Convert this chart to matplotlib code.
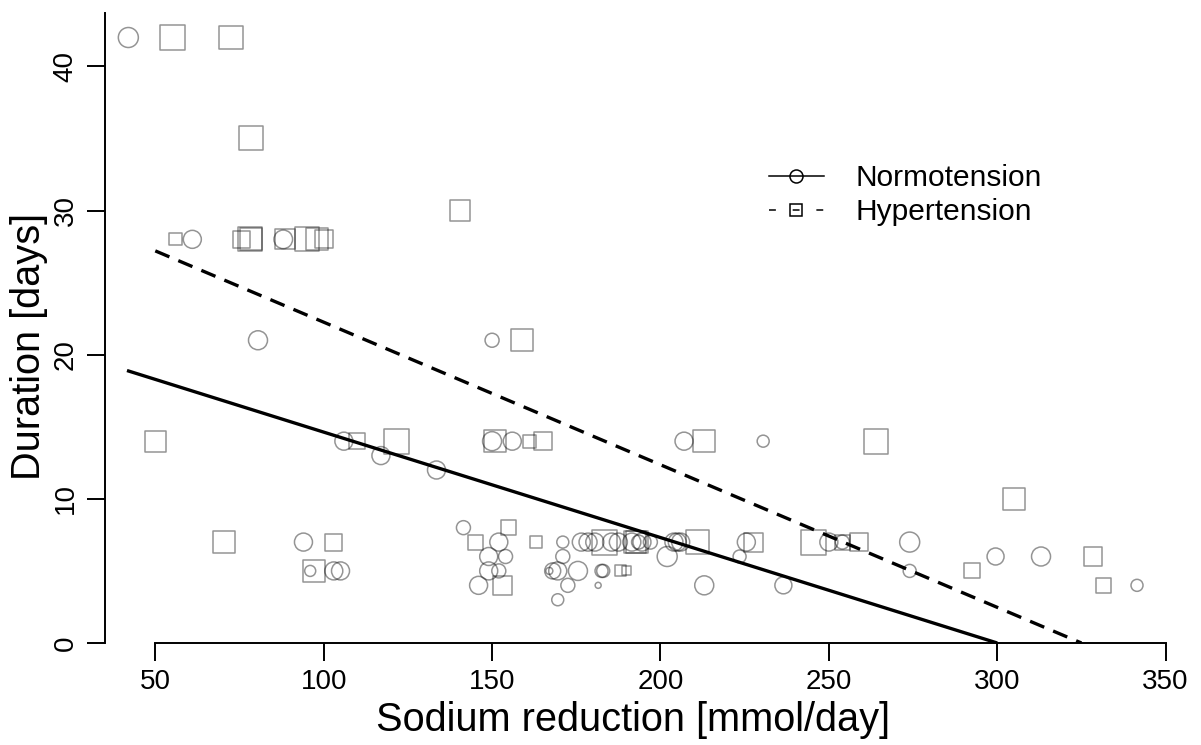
import numpy as np
import matplotlib.pyplot as plt
from matplotlib.lines import Line2D

plt.rcParams['font.family'] = ['Liberation Sans', 'DejaVu Sans']

# normotension trials: sodium reduction, duration, symbol weight (radius)
normo_x = [42, 61, 88, 80.5, 150, 106, 117, 133.5, 150, 156, 207, 230.5,
           94, 96, 103, 105, 141.5, 152, 149, 154, 149, 152, 146,
           171, 176.5, 178.5, 180.5, 185.5, 187.5, 191.5, 193.5, 194.5, 197, 204, 205, 206,
           202, 171, 223.5, 225.5, 250, 254, 274, 274, 299.5, 313, 341.5,
           167, 168, 169.5, 175.5, 182.5, 183, 172.5, 181.5, 213, 236.5, 169.5]
normo_y = [42, 28, 28, 21, 21, 14, 13, 12, 14, 14, 14, 14,
           7, 5, 5, 5, 8, 7, 6, 6, 5, 5, 4,
           7, 7, 7, 7, 7, 7, 7, 7, 7, 7, 7, 7, 7,
           6, 6, 6, 7, 7, 7, 7, 5, 6, 6, 4,
           5, 5, 5, 5, 5, 5, 4, 4, 4, 4, 3]
normo_w = [10, 9, 9.3, 9.5, 7, 9, 9, 9, 9.5, 9, 9, 6,
           9, 5.5, 9, 9, 7, 9, 9, 7, 9, 7, 9,
           6, 9, 9, 9, 9, 9, 9, 7, 9, 7, 9, 9, 9,
           10, 7, 6.5, 9, 9, 7, 10, 6.5, 8.5, 9.5, 6,
           3.5, 8, 9, 9.5, 6.5, 6.5, 7, 3, 9.5, 8.5, 6]

# hypertension trials
hyper_x = [55, 72.5, 78.5, 140.5, 56, 75.5, 78, 78.5, 88.5, 95, 98, 100,
           159, 50, 110, 121.5, 151, 161, 165, 213, 264, 305,
           70.5, 103, 97, 155, 145, 163, 153, 183.5, 192.5, 193, 211,
           227.5, 245.5, 254, 259, 188, 190, 292.5, 328.5, 331.5]
hyper_y = [42, 42, 35, 30, 28, 28, 28, 28, 28, 28, 28, 28,
           21, 14, 14, 14, 14, 14, 14, 14, 14, 10,
           7, 7, 5, 8, 7, 7, 4, 7, 7, 7, 7,
           7, 7, 7, 7, 5, 5, 5, 6, 4]
hyper_w = [14.1, 13.5, 13.5, 11.3, 6.8, 9.6, 13.5, 12.4, 11.3, 13.5, 12.4, 10.2,
           12.4, 11.9, 9.0, 14.1, 12.4, 7.3, 10.2, 12.4, 14.1, 12.4,
           12.4, 9.6, 12.4, 8.5, 8.5, 6.8, 10.7, 14.1, 12.4, 12.4, 13.5,
           10.7, 14.1, 8.5, 10.2, 6.2, 5.1, 8.5, 10.2, 8.5]

# fitted regression lines
normo_fit_x = [41.6, 300]
normo_fit_y = [18.9, 0]
hyper_fit_x = [50, 325]
hyper_fit_y = [27.2, 0]

xticks = [50, 100, 150, 200, 250, 300, 350]
yticks = [0, 10, 20, 30, 40]

PT = 72 / 100  # points per pixel
grey = (0, 0, 0, 0.42)

fig = plt.figure(figsize=(12.01, 7.45), dpi=100)
ax = fig.add_axes([105 / 1201, 102 / 745, 1096 / 1201, 630 / 745])

ax.scatter(normo_x, normo_y, s=(2 * np.array(normo_w) * PT) ** 2, marker='o',
           facecolors='none', edgecolors=grey, linewidths=1.1, clip_on=False)
ax.scatter(hyper_x, hyper_y, s=(1.772 * np.array(hyper_w) * PT) ** 2, marker='s',
           facecolors='none', edgecolors=grey, linewidths=1.1, clip_on=False)

ax.plot(normo_fit_x, normo_fit_y, color='black', lw=2.4, solid_capstyle='butt')
ax.plot(hyper_fit_x, hyper_fit_y, color='black', lw=2.4, ls=(0, (4.6, 2.9)),
        dash_capstyle='butt')

ax.set_xlim(35.07, 360.5)
ax.set_ylim(0, 43.7)
ax.set_xticks(xticks)
ax.set_yticks(yticks)
for s in ['top', 'right']:
    ax.spines[s].set_visible(False)
ax.spines['bottom'].set_bounds(50, 350)
ax.spines['left'].set_linewidth(1.4)
ax.spines['bottom'].set_linewidth(1.4)
ax.tick_params(length=13, width=1.4, labelsize=20, pad=6)
plt.setp(ax.get_yticklabels(), rotation=90, va='center', ha='right')

fig.text(633 / 1201, 1 - 720 / 745, 'Sodium reduction [mmol/day]',
         fontsize=28.6, ha='center', va='center')
fig.text(29 / 1201, 1 - 346 / 745, 'Duration [days]', fontsize=28.6,
         rotation=90, ha='center', va='center')

handles = [
    Line2D([], [], color='black', lw=1.1, marker='o', markersize=13 * PT,
           markerfacecolor='none', markeredgewidth=1.1),
    Line2D([], [], color='black', lw=1.1, ls=(0, (4.5, 11)), marker='s',
           markersize=11.5 * PT, markerfacecolor='none', markeredgewidth=1.1),
]
ax.legend(handles, ['Normotension', 'Hypertension'], loc='upper left',
          bbox_to_anchor=(769 / 1201, 1 - 164 / 745),
          bbox_transform=fig.transFigure, frameon=False, fontsize=21.5,
          handlelength=1.83, handletextpad=1.05, labelspacing=0.2,
          borderpad=0, borderaxespad=0)

fig.savefig('out.png', dpi=100)
